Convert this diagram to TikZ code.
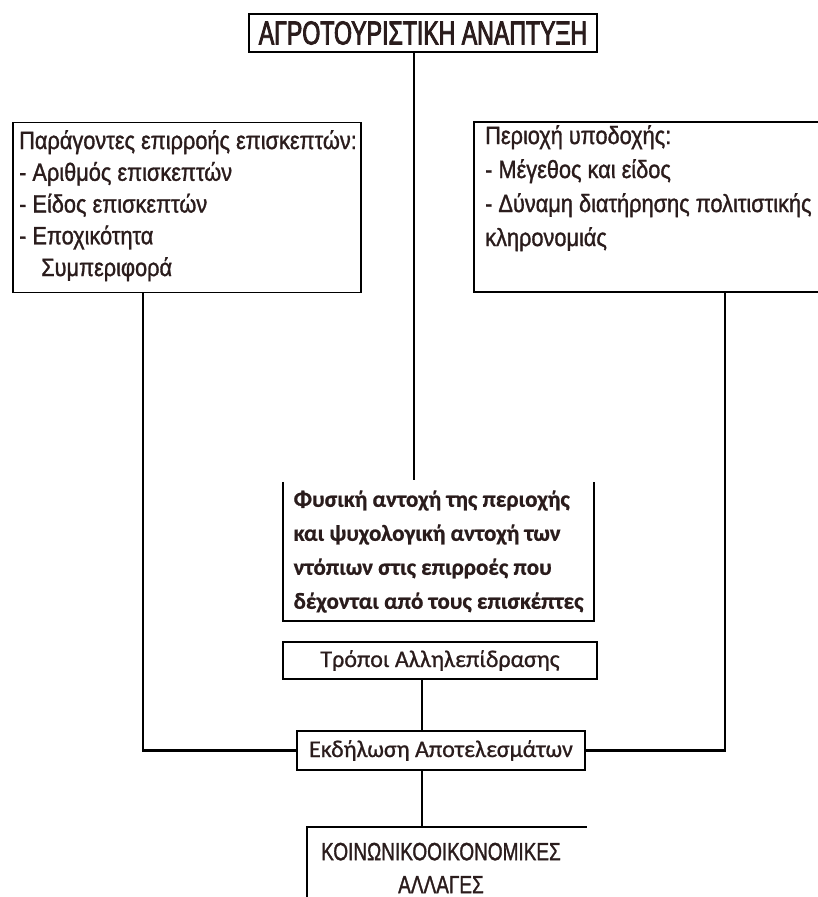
\documentclass[tikz,border=0pt]{standalone}
\usepackage{fontspec}
\setmainfont{Liberation Sans}[FakeStretch=0.87, FakeBold=1.2]
\newfontfamily\titlefont{Liberation Sans}[FakeStretch=0.7, FakeBold=2.5]
\newfontfamily\capsfont{Liberation Sans}[FakeStretch=0.76, FakeBold=1.2]
\newfontfamily\calibrifont{Carlito}[FakeBold=0.8]
\usetikzlibrary{positioning}
\definecolor{ink}{HTML}{2A1C1C}

\tikzset{
  box/.style={draw, line width=1.8pt, inner sep=0pt, text=ink},
  openbox/.style={inner sep=0pt, text=ink},
  boxline/.style={line width=1.8pt},
  link/.style={line width=2.2pt},
  txt/.style={inner sep=0pt, text=ink, align=left, anchor=north west},
}

\begin{document}
\begin{tikzpicture}[x=1pt,y=-1pt]
\useasboundingbox (0,0) rectangle (818,897);
\clip (0,0) rectangle (818,897);

% title
\node[box, minimum width=348pt, minimum height=38pt, font=\titlefont\fontsize{33}{35}\selectfont] (agro) at (423,33) {ΑΓΡΟΤΟΥΡΙΣΤΙΚΗ ΑΝΑΠΤΥΞΗ};

% visitors and host area
\node[box, minimum width=348pt, minimum height=170pt] (visitors) at (187,207.5) {};
\node[txt, font=\fontsize{25}{31.75}\selectfont] (visitorstext) at (19,130) {Παράγοντες επιρροής επισκεπτών:\\- Αριθμός επισκεπτών\\- Είδος επισκεπτών\\- Εποχικότητα\\\hspace*{22pt}Συμπεριφορά};
\node[box, minimum width=366pt, minimum height=170pt] (host) at (657,207) {};
\node[txt, font=\fontsize{25}{34}\selectfont] (hosttext) at (485,125) {Περιοχή υποδοχής:\\- Μέγεθος και είδος\\- Δύναμη διατήρησης πολιτιστικής\\κληρονομιάς};

% carrying capacity
\node[openbox, minimum width=311pt, minimum height=139pt, align=left, font=\calibrifont\fontsize{23}{34}\selectfont\bfseries] (capacity) at (438.5,551.5) {Φυσική αντοχή της περιοχής\\και ψυχολογική αντοχή των\\ντόπιων στις επιρροές που\\δέχονται από τους επισκέπτες};
\draw[boxline] (capacity.north west) -- (capacity.south west) -- (capacity.south east) -- (capacity.north east);

\node[box, minimum width=314pt, minimum height=37pt, font=\calibrifont\fontsize{24}{26}\selectfont] (modes) at (440,660.5) {Τρόποι Αλληλεπίδρασης};
\node[box, minimum width=288pt, minimum height=39pt, font=\calibrifont\fontsize{24}{26}\selectfont] (effects) at (441,750.5) {Εκδήλωση Αποτελεσμάτων};

% result
\node[openbox, minimum width=280pt, minimum height=133pt] (changes) at (447,893.5) {};
\draw[boxline] (changes.south west) -- (changes.north west) -- (changes.north east);
\node[openbox, align=center, font=\capsfont\fontsize{25}{33}\selectfont] (changestext) at (441,868) {ΚΟΙΝΩΝΙΚΟΟΙΚΟΝΟΜΙΚΕΣ\\ΑΛΛΑΓΕΣ};

% connectors
\coordinate (midtop) at (414,480);
\coordinate (spine) at (422,0);
\coordinate (leftrail) at (143,0);
\coordinate (rightrail) at (725,0);
\draw[link] (agro.south -| midtop) -- (midtop);
\draw[link] (modes.south -| spine) -- (effects.north -| spine);
\draw[link] (effects.south -| spine) -- (changes.north -| spine);
\draw[link] (visitors.south -| leftrail) |- (effects.west);
\draw[link] (host.south -| rightrail) |- (effects.east);
\end{tikzpicture}
\end{document}
